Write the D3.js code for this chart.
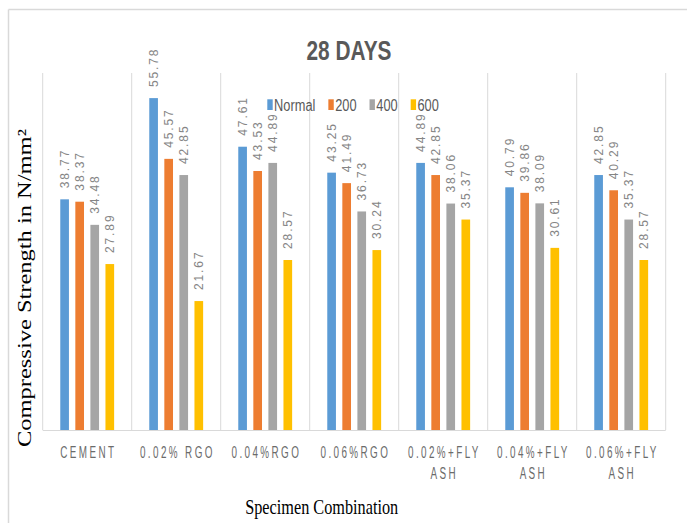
<!DOCTYPE html>
<html>
<head>
<meta charset="utf-8">
<script src="https://cdn.jsdelivr.net/npm/d3@7/dist/d3.min.js"></script>
<style>
  html, body { margin: 0; padding: 0; background: #fff; }
  svg { display: block; }
</style>
</head>
<body>
<svg id="chart" width="687" height="523"></svg>
<script>
// ---- data ----
const title = "28 DAYS";
const categories = ["CEMENT", "0.02%RGO", "0.04%RGO", "0.06%RGO", "0.02%+FLY ASH", "0.04%+FLY ASH", "0.06%+FLY ASH"];
const categoryLines = [["CEMENT"], ["0.02% RGO"], ["0.04%RGO"], ["0.06%RGO"], ["0.02%+FLY", "ASH"], ["0.04%+FLY", "ASH"], ["0.06%+FLY", "ASH"]];
const seriesNames = ["Normal", "200", "400", "600"];
const normalValues = [38.77, 55.78, 47.61, 43.25, 44.89, 40.79, 42.85];
const values200 = [38.37, 45.57, 43.53, 41.49, 42.85, 39.86, 40.29];
const values400 = [34.48, 42.85, 44.89, 36.73, 38.06, 38.09, 35.37];
const values600 = [27.89, 21.67, 28.57, 30.24, 35.37, 30.61, 28.57];
const yDomain = [0, 60];
const yAxisTitle = "Compressive Strength in N/mm\u00B2";
const xAxisTitle = "Specimen Combination";

const seriesValues = [normalValues, values200, values400, values600];
const colors = ["#5B9BD5", "#ED7D31", "#A5A5A5", "#FFC000"];

const svg = d3.select("#chart");

// outer border (left and top visible)
svg.append("line").attr("x1", 8.5).attr("x2", 8.5).attr("y1", 9.5).attr("y2", 523)
  .attr("stroke", "#d9d9d9").attr("stroke-width", 1.5);
svg.append("line").attr("x1", 8.5).attr("x2", 687).attr("y1", 9.5).attr("y2", 9.5)
  .attr("stroke", "#d9d9d9").attr("stroke-width", 1.5);

const plotLeft = 42.7, plotRight = 665.7, plotTop = 73, plotBottom = 430;

const x0 = d3.scaleBand().domain(categories).range([plotLeft, plotRight]).padding(0);
const x1 = d3.scaleBand().domain(seriesNames).range([0, x0.bandwidth()])
  .paddingInner(0.424).paddingOuter(1.166);
const y = d3.scaleLinear().domain(yDomain).range([plotBottom, plotTop]);

// vertical gridlines at category boundaries
const bounds = categories.map(c => x0(c)).concat([x0(categories[categories.length - 1]) + x0.bandwidth()]);
svg.append("g").selectAll("line").data(bounds).join("line")
  .attr("x1", d => d).attr("x2", d => d)
  .attr("y1", plotTop).attr("y2", plotBottom)
  .attr("stroke", "#d9d9d9").attr("stroke-width", 1);

// baseline
svg.append("line").attr("x1", plotLeft).attr("x2", plotRight)
  .attr("y1", plotBottom + 0.5).attr("y2", plotBottom + 0.5)
  .attr("stroke", "#d9d9d9").attr("stroke-width", 1.2);

// bars
const table = [];
categories.forEach((c, i) => {
  seriesNames.forEach((s, j) => {
    table.push({ cat: c, series: s, value: seriesValues[j][i], color: colors[j] });
  });
});

svg.append("g").selectAll("rect").data(table).join("rect")
  .attr("x", d => x0(d.cat) + x1(d.series))
  .attr("y", d => y(d.value))
  .attr("width", x1.bandwidth())
  .attr("height", d => y(0) - y(d.value))
  .attr("fill", d => d.color);

// value labels (rotated)
svg.append("g").selectAll("text").data(table).join("text")
  .attr("transform", d => `translate(${x0(d.cat) + x1(d.series) + x1.bandwidth() / 2 + 4.3},${y(d.value) - 11}) rotate(-90)`)
  .attr("text-anchor", "start")
  .attr("font-family", "Liberation Sans, Arial, sans-serif")
  .attr("font-size", 12)
  .attr("letter-spacing", "1.9px")
  .attr("fill", "#858585")
  .text(d => d.value.toFixed(2));

// category labels (narrow glyphs, letter-spaced)
const sx = 0.6;
const catG = svg.append("g").attr("transform", `scale(${sx},1)`);
categories.forEach((c, i) => {
  const lines = categoryLines[i];
  lines.forEach((ln, k) => {
    catG.append("text")
      .attr("x", (x0(c) + x0.bandwidth() / 2) / sx + 2)
      .attr("y", 458.5 + k * 21)
      .attr("text-anchor", "middle")
      .attr("font-family", "Liberation Sans, Arial, sans-serif")
      .attr("font-size", 16.5)
      .attr("letter-spacing", "4px")
      .attr("fill", "#6b6b6b")
      .text(ln);
  });
});

// title
const tt = svg.append("text")
  .attr("x", 349).attr("y", 59.5)
  .attr("text-anchor", "middle")
  .attr("font-family", "Liberation Sans, Arial, sans-serif")
  .attr("font-weight", "bold")
  .attr("font-size", 28)
  .attr("fill", "#595959")
  .text(title);
tt.attr("textLength", 85).attr("lengthAdjust", "spacingAndGlyphs");

// legend
const legend = svg.append("g");
let lx = 267.3;
seriesNames.forEach((s, j) => {
  legend.append("rect").attr("x", lx).attr("y", 99.3).attr("width", 5.4).attr("height", 10.7)
    .attr("fill", colors[j]);
  const t = legend.append("text")
    .attr("x", lx + 6.8).attr("y", 110.5)
    .attr("font-family", "Liberation Sans, Arial, sans-serif")
    .attr("font-size", 16)
    .attr("fill", "#595959")
    .text(s);
  const w = t.node().getComputedTextLength() * 0.8;
  t.attr("textLength", w).attr("lengthAdjust", "spacingAndGlyphs");
  lx = lx + 6.8 + w + 13;
});

// y-axis title
svg.append("text")
  .attr("transform", "translate(31,288) rotate(-90)")
  .attr("text-anchor", "middle")
  .attr("font-family", "Liberation Serif, Times New Roman, serif")
  .attr("font-size", 19)
  .attr("fill", "#000")
  .attr("textLength", 318).attr("lengthAdjust", "spacingAndGlyphs")
  .text(yAxisTitle);

// x-axis title
svg.append("text")
  .attr("x", 321.7).attr("y", 513.5)
  .attr("text-anchor", "middle")
  .attr("font-family", "Liberation Serif, Times New Roman, serif")
  .attr("font-size", 22)
  .attr("fill", "#000")
  .attr("textLength", 153).attr("lengthAdjust", "spacingAndGlyphs")
  .text(xAxisTitle);
</script>
</body>
</html>
